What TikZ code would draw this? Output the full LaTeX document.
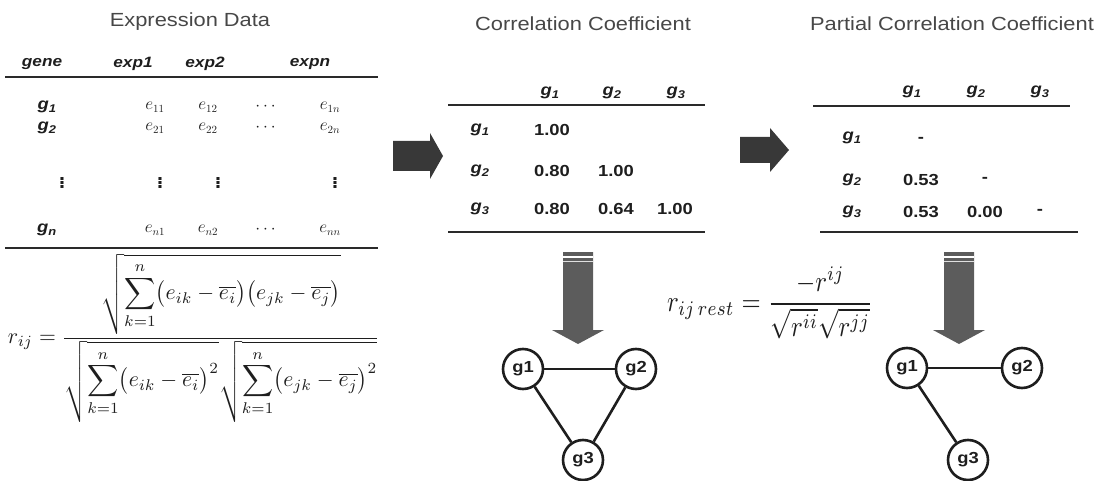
\documentclass[tikz,border=0pt]{standalone}
\usepackage{amsmath}
\usepackage{graphicx}
\usepackage{fontspec}
\setmainfont{Liberation Sans}[FakeStretch=1.15]
\usetikzlibrary{positioning}
\definecolor{inkgrey}{HTML}{1E1E1E}
\definecolor{titlegrey}{HTML}{474747}
\definecolor{rulegrey}{HTML}{2A2A2A}
\definecolor{arrowdark}{HTML}{383838}
\definecolor{arrowmid}{HTML}{5C5C5C}
\newcommand{\dsum}{\displaystyle\sum_{k=1}^{n}}
\tikzset{
  ttl/.style  ={font=\fontsize{19}{21}\selectfont, text=titlegrey},
  hdr/.style  ={font=\fontsize{15}{17}\selectfont\bfseries\itshape, text=inkgrey},
  glbl/.style ={font=\fontsize{16}{18}\selectfont\bfseries\itshape, text=inkgrey},
  entry/.style={font=\fontsize{16}{18}\selectfont, text=inkgrey},
  vdot/.style ={font=\fontsize{28}{30}\selectfont, text=inkgrey},
  val/.style  ={font=\fontsize{16}{18}\selectfont\bfseries, text=inkgrey},
  frm/.style  ={inner sep=0pt, text=inkgrey},
  rule/.style ={draw=rulegrey, line width=1.8pt},
  gene/.style ={circle, draw=inkgrey, fill=white, line width=2.6pt, minimum size=40pt,
                inner sep=0pt, font=\fontsize{16}{18}\selectfont\bfseries, text=inkgrey},
  link/.style ={draw=inkgrey, line width=2.6pt},
  rblock/.style={fill=arrowdark},
  dblock/.style={fill=arrowmid},
}
\begin{document}
\begin{tikzpicture}[x=1pt, y=-1pt]
\useasboundingbox (0,0) rectangle (1103,481);

% Expression data table
\node[ttl] (texp) at (190,22) {Expression Data};
\node[hdr] (hgene) at (42,64) {gene};
\node[hdr] (hexp1) at (133,64) {exp1};
\node[hdr] (hexp2) at (205,64) {exp2};
\node[hdr] (hexpn) at (310,64) {expn};
\draw[rule] (5,77) -- (378,77);

\foreach \k/\yy in {1/107, 2/128, n/230} {
  \node[glbl] (g\k) at (47,\yy) {g\textsubscript{\k}};
  \node[entry] (ea\k) at (155,\yy) {$e_{\k 1}$};
  \node[entry] (eb\k) at (208,\yy) {$e_{\k 2}$};
  \node[entry] (cd\k) at (267,\yy) {$\cdots$};
  \node[entry] (ez\k) at (330,\yy) {$e_{\k n}$};
}
\foreach \xx/\nm in {62/a,160/b,218/c,335/d}
  \node[vdot] (vd\nm) at (\xx,180) {$\vdots$};
\draw[rule] (5,248) -- (378,248);

% Pearson formula
\node[frm] (rform) at (194,338) {\resizebox*{372pt}{168pt}{$\displaystyle
  r_{ij}=\dfrac{\sqrt{\dsum\bigl(e_{ik}-\overline{e_i}\bigr)\bigl(e_{jk}-\overline{e_j}\bigr)}}
  {\sqrt{\dsum\bigl(e_{ik}-\overline{e_i}\bigr)^2}\sqrt{\dsum\bigl(e_{jk}-\overline{e_j}\bigr)^2}}$}};

% Arrow to correlation
\fill[rblock] (393,141) -- (430,141) -- (430,133) -- (443,156) -- (430,179) -- (430,171) -- (393,171) -- cycle;

% Correlation coefficient table
\node[ttl] (tcor) at (583,24) {Correlation Coefficient};
\node[glbl] (cg1) at (550,93) {g\textsubscript{1}};
\node[glbl] (cg2) at (612,93) {g\textsubscript{2}};
\node[glbl] (cg3) at (676,93) {g\textsubscript{3}};
\draw[rule] (448,105) -- (705,105);
\node[glbl] (cr1) at (480,130) {g\textsubscript{1}};
\node[glbl] (cr2) at (480,171) {g\textsubscript{2}};
\node[glbl] (cr3) at (480,209) {g\textsubscript{3}};
\node[val] (c11) at (552,130) {1.00};
\node[val] (c21) at (552,171) {0.80};
\node[val] (c22) at (616,171) {1.00};
\node[val] (c31) at (552,209) {0.80};
\node[val] (c32) at (616,209) {0.64};
\node[val] (c33) at (675,209) {1.00};
\draw[rule] (448,232) -- (705,232);

% Down arrow and correlation network
\fill[dblock] (563,252) -- (593,252) -- (593,330) -- (604,330) -- (578,344) -- (552,330) -- (563,330) -- cycle;
\fill[white] (563,256) rectangle (593,257.5);
\fill[white!75!gray] (563,260.5) rectangle (593,262);
\node[gene] (ca) at (523,369) {g1};
\node[gene] (cb) at (636,369) {g2};
\node[gene] (cc) at (583,460) {g3};
\draw[link] (ca) -- (cb);
\draw[link] (ca) -- (cc);
\draw[link] (cb) -- (cc);

% Arrow to partial correlation
\fill[rblock] (740,137) -- (770,137) -- (770,128) -- (789,150) -- (770,172) -- (770,163) -- (740,163) -- cycle;

% Partial correlation table
\node[ttl] (tpar) at (952,24) {Partial Correlation Coefficient};
\node[glbl] (pg1) at (912,92) {g\textsubscript{1}};
\node[glbl] (pg2) at (976,92) {g\textsubscript{2}};
\node[glbl] (pg3) at (1040,92) {g\textsubscript{3}};
\draw[rule] (813,106) -- (1070,106);
\node[glbl] (pr1) at (852,138) {g\textsubscript{1}};
\node[glbl] (pr2) at (852,180) {g\textsubscript{2}};
\node[glbl] (pr3) at (852,212) {g\textsubscript{3}};
\node[val] (p11) at (921,140) {-};
\node[val] (p21) at (921,180) {0.53};
\node[val] (p22) at (985,180) {-};
\node[val] (p31) at (921,212) {0.53};
\node[val] (p32) at (985,212) {0.00};
\node[val] (p33) at (1040,212) {-};
\draw[rule] (820,232) -- (1078,232);

% Partial formula
\node[frm] (pform) at (770,303) {\resizebox*{206pt}{72pt}{$\displaystyle
  r_{ij\,rest}=\dfrac{-r^{ij}}{\sqrt{r^{ii}}\sqrt{r^{jj}}}$}};

% Down arrow and partial network
\fill[dblock] (944,252) -- (974,252) -- (974,330) -- (985,330) -- (959,344) -- (933,330) -- (944,330) -- cycle;
\fill[white] (944,256) rectangle (974,257.5);
\fill[white!75!gray] (944,260.5) rectangle (974,262);
\node[gene] (pa) at (907,368) {g1};
\node[gene] (pb) at (1022,368) {g2};
\node[gene] (pc) at (968,460) {g3};
\draw[link] (pa) -- (pb);
\draw[link] (pa) -- (pc);

\end{tikzpicture}
\end{document}
